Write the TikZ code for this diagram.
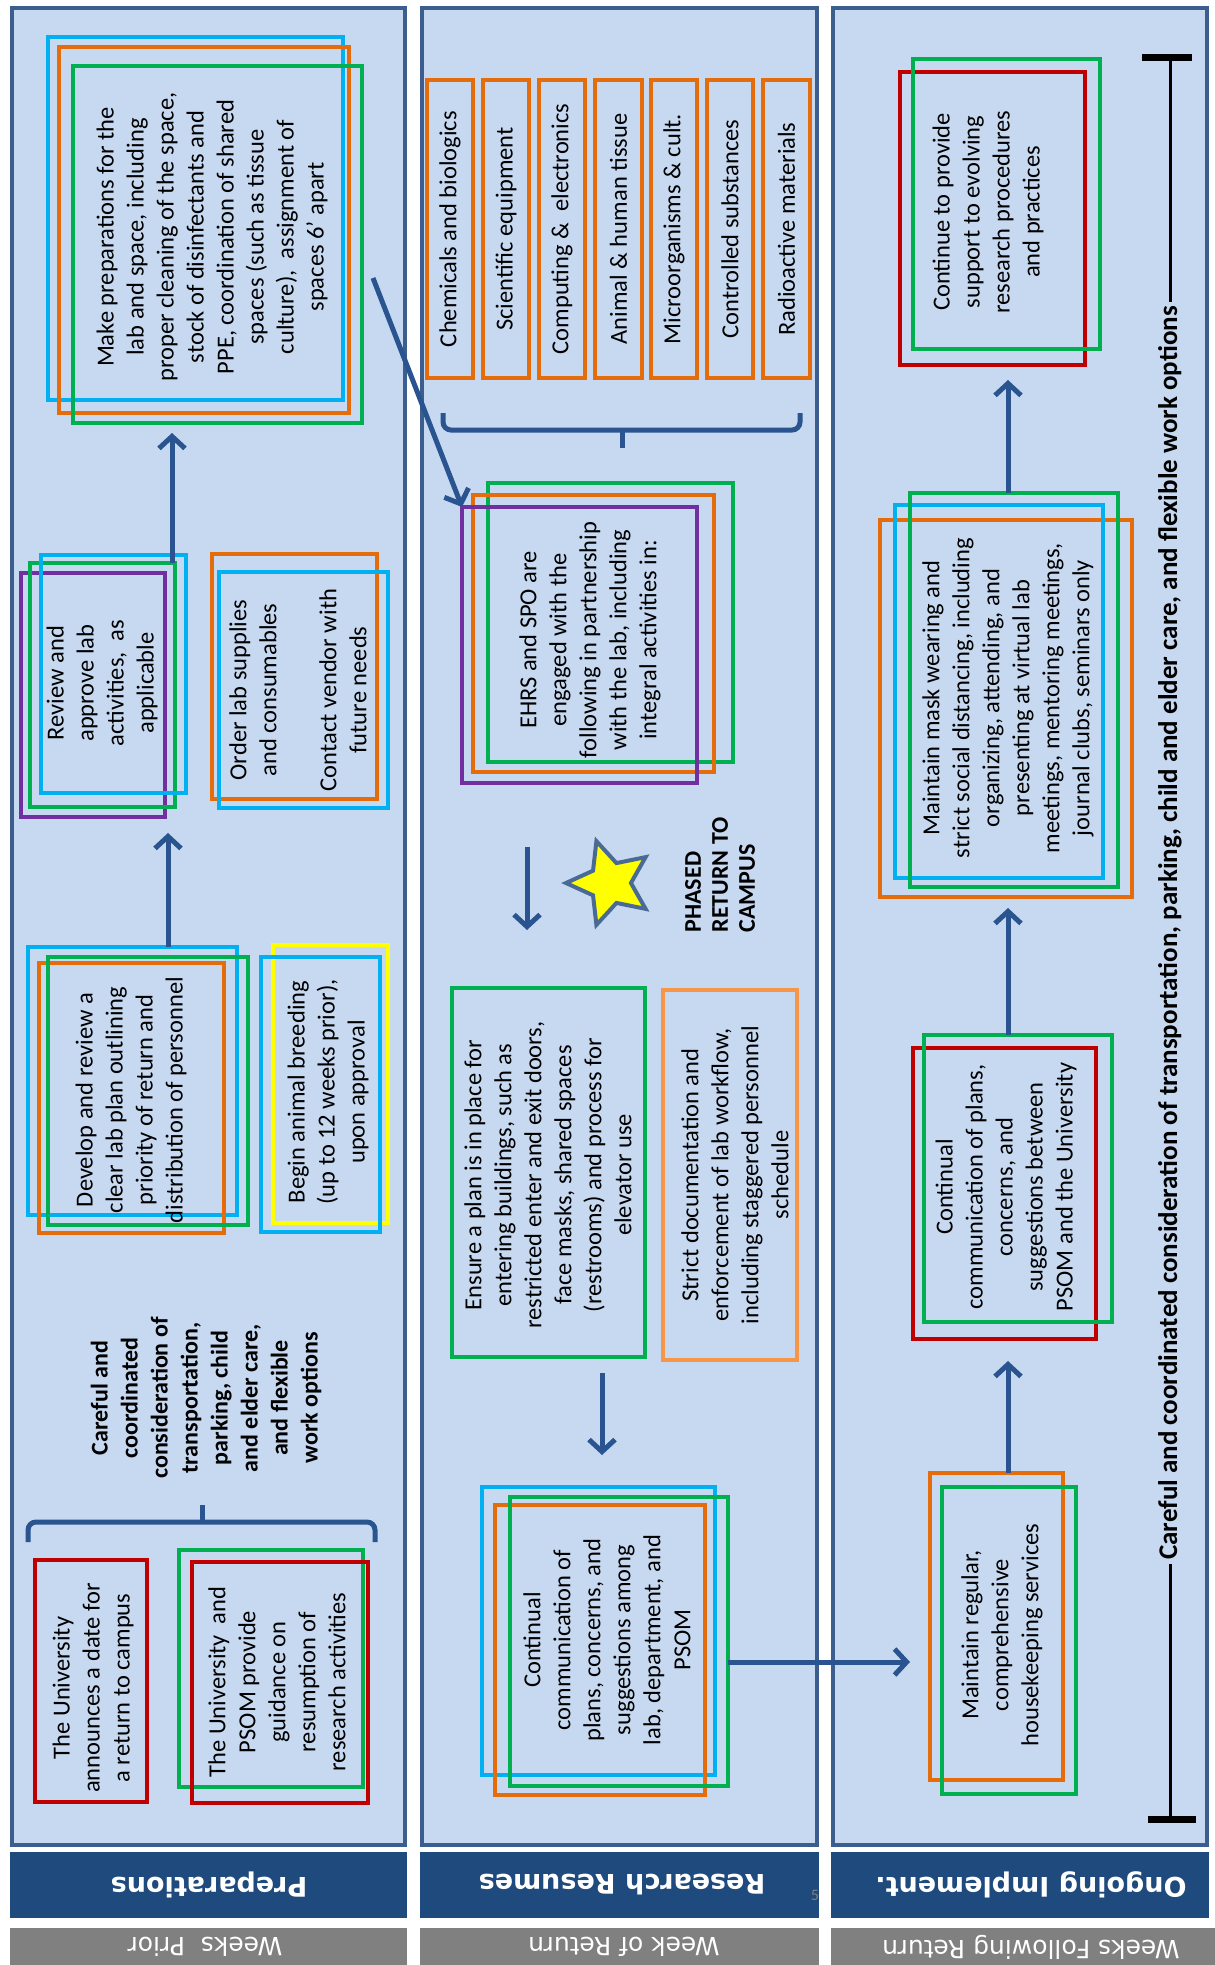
\documentclass[tikz,border=0pt]{standalone}
\usepackage{fontspec}
\setmainfont{Carlito}
\newfontfamily\hdrfont{DejaVu Sans}
\usetikzlibrary{arrows.meta,shapes.geometric}
\definecolor{panel}{HTML}{C6D9F1}
\definecolor{pborder}{HTML}{3B5E8E}
\definecolor{hdark}{HTML}{1F4A7E}
\definecolor{hgray}{HTML}{808080}
\definecolor{cblue}{HTML}{00B0F0}
\definecolor{corange}{HTML}{E46C0A}
\definecolor{cgreen}{HTML}{00B050}
\definecolor{cred}{HTML}{C00000}
\definecolor{cpurple}{HTML}{7030A0}
\definecolor{cyellow}{HTML}{FFFF00}
\definecolor{clorange}{HTML}{F79646}
\definecolor{arrc}{HTML}{2A5490}
\definecolor{starb}{HTML}{4A6A96}
\newcommand\fr[6]{\node[frame,draw=#6,minimum width={(#4)-(#2)},minimum height={(#5)-(#3)}] (#1) at ({((#2)+(#4))/2},{((#3)+(#5))/2}) {};}
\tikzset{
  frame/.style={rectangle,line width=4.5pt,inner sep=0pt,outer sep=0pt},
  txt/.style={rotate=90,align=center,inner sep=0pt,font=\fontsize{24.5}{30}\selectfont},
  btxt/.style={txt,font=\fontsize{24}{30}\selectfont\bfseries},
  arr/.style={draw=arrc,line width=5pt,-{Straight Barb[length=12pt,width=26pt]}},
  brc/.style={draw=arrc,line width=5pt,rounded corners=8pt},
  pnl/.style={fill=panel,draw=pborder,line width=4pt},
  hdr/.style={rotate=180,text=white,font=\hdrfont\bfseries\fontsize{27}{30}\selectfont},
  gry/.style={rotate=180,text=white,font=\hdrfont\fontsize{25}{28}\selectfont},
}
\begin{document}
\begin{tikzpicture}[x=1pt,y=-1pt]
\useasboundingbox (0,0) rectangle (1215,1965);
\fill[white] (0,0) rectangle (1215,1965);
% panels
\draw[pnl] (12,8) rectangle (405,1845);
\draw[pnl] (422,8) rectangle (817,1845);
\draw[pnl] (833,8) rectangle (1207,1845);
% header bands
\fill[hdark] (10,1852) rectangle (407,1918);
\fill[hdark] (420,1852) rectangle (819,1918);
\fill[hdark] (831,1852) rectangle (1209,1918);
\fill[hgray] (10,1928) rectangle (407,1965);
\fill[hgray] (420,1928) rectangle (819,1965);
\fill[hgray] (831,1928) rectangle (1215,1965);
\node[hdr] (h1) at (209,1885) {Preparations};
\node[hdr] (h2) at (622,1885) {Research Resumes};
\node[hdr] (h3) at (1031,1885) {Ongoing Implement.};
\node[gry] (g1) at (205,1947) {Weeks~ Prior};
\node[gry] (g2) at (624,1947) {Week of Return};
\node[gry] (g3) at (1031,1947) {Weeks Following Return};
\node[text=hgray,font=\fontsize{16}{16}\selectfont] (pgno) at (815,1895) {5};

% ---------- column 1 ----------
\fr{prepB}{48}{37}{343}{400}{cblue}
\fr{prepO}{59}{47}{349}{413}{corange}
\fr{prepG}{73}{66}{362}{423}{cgreen}
\node[txt] (prepT) at (212,237) {Make preparations for the\\lab and space, including\\proper cleaning of the space,\\stock of disinfectants and\\PPE, coordination of shared\\spaces (such as tissue\\culture),~ assignment of\\spaces 6' apart};

\fr{revP}{21}{573}{165}{817}{cpurple}
\fr{revG}{30}{563}{175}{807}{cgreen}
\fr{revB}{41}{555}{186}{793}{cblue}
\node[txt] (revT) at (102,683) {Review and\\approve lab\\activities,~ as\\applicable};

\fr{ordO}{212}{554}{377}{799}{corange}
\fr{ordB}{219}{572}{388}{808}{cblue}
\node[txt] (ordT) at (298,690) {Order lab supplies\\and consumables\\[30pt]Contact vendor with\\future needs};

\fr{devB}{28}{947}{237}{1215}{cblue}
\fr{devO}{39}{963}{224}{1233}{corange}
\fr{devG}{48}{957}{248}{1225}{cgreen}
\node[txt] (devT) at (131,1100) {Develop and review a\\clear lab plan outlining\\priority of return and\\distribution of personnel};

\fr{begY}{273}{945}{388}{1223}{cyellow}
\fr{begB}{261}{957}{380}{1232}{cblue}
\node[txt] (begT) at (328,1092) {Begin animal breeding\\(up to 12 weeks prior),\\upon approval};

\node[btxt] (careT) at (206,1398) {Careful and\\coordinated\\consideration of\\transportation,\\parking, child\\and elder care,\\and flexible\\work options};

\draw[brc] (28,1542) -- (28,1522) -- (375,1522) -- (375,1542);
\draw[draw=arrc,line width=5pt] (202,1524) -- (202,1505);

\fr{uniR}{35}{1560}{147}{1802}{cred}
\node[txt] (uniT) at (93,1688) {The University\\announces a date for\\a return to campus};

\fr{psomG}{179}{1550}{363}{1787}{cgreen}
\fr{psomR}{192}{1562}{368}{1803}{cred}
\node[txt] (psomT) at (277,1682) {The University~ and\\PSOM provide\\guidance on\\resumption of\\research activities};

% ---------- column 2 ----------
\fr{o1}{427}{80}{473}{378}{corange}
\fr{o2}{483}{80}{529}{378}{corange}
\fr{o3}{539}{80}{585}{378}{corange}
\fr{o4}{595}{80}{642}{378}{corange}
\fr{o5}{651}{80}{697}{378}{corange}
\fr{o6}{707}{80}{753}{378}{corange}
\fr{o7}{763}{80}{810}{378}{corange}
\node[txt] (o1t) at (o1) {Chemicals and biologics};
\node[txt] (o2t) at (o2) {Scientific equipment};
\node[txt] (o3t) at (o3) {Computing \&~ electronics};
\node[txt] (o4t) at (o4) {Animal \& human tissue};
\node[txt] (o5t) at (o5) {Microorganisms \& cult.};
\node[txt] (o6t) at (o6) {Controlled substances};
\node[txt] (o7t) at (o7) {Radioactive materials};

\draw[brc] (443,413) -- (443,430) -- (800,430) -- (800,413);
\draw[draw=arrc,line width=5pt] (622,428) -- (622,448);

\fr{ehrsG}{488}{483}{733}{762}{cgreen}
\fr{ehrsO}{473}{495}{714}{772}{corange}
\fr{ehrsP}{462}{507}{697}{783}{cpurple}
\node[txt] (ehrsT) at (590,640) {EHRS and SPO are\\engaged with the\\following in partnership\\with the lab, including\\integral activities in:};

\node[star,star points=5,star point ratio=2.1,minimum size=88pt,inner sep=0pt,
      fill=cyellow,draw=starb,line width=4pt,rotate=90] (star) at (610,883) {};
\node[btxt,align=left,font=\fontsize{24}{27}\selectfont\bfseries] (phT) at (720,875) {PHASED\\RETURN TO\\CAMPUS};

\fr{ensG}{452}{988}{645}{1357}{cgreen}
\node[txt] (ensT) at (548,1175) {Ensure a plan is in place for\\entering buildings, such as\\restricted enter and exit doors,\\face masks, shared spaces\\(restrooms) and process for\\elevator use};

\fr{strO}{663}{990}{797}{1360}{clorange}
\node[txt] (strT) at (735,1175) {Strict documentation and\\enforcement of lab workflow,\\including staggered personnel\\schedule};

\fr{conB}{482}{1487}{715}{1775}{cblue}
\fr{conO}{495}{1505}{705}{1795}{corange}
\fr{conG}{510}{1497}{728}{1786}{cgreen}
\node[txt] (conT) at (607,1640) {Continual\\communication of\\plans, concerns, and\\suggestions among\\lab, department, and\\PSOM};

% ---------- column 3 ----------
\fr{cntR}{900}{72}{1085}{365}{cred}
\fr{cntG}{913}{59}{1100}{349}{cgreen}
\node[txt] (cntT) at (988,212) {Continue to provide\\support to evolving\\research procedures\\and practices};

\fr{mskO}{880}{520}{1132}{897}{corange}
\fr{mskB}{895}{505}{1103}{878}{cblue}
\fr{mskG}{910}{493}{1118}{887}{cgreen}
\node[txt] (mskT) at (1008,698) {Maintain mask wearing and\\strict social distancing, including\\organizing, attending, and\\presenting at virtual lab\\meetings, mentoring meetings,\\journal clubs, seminars only};

\fr{c2R}{913}{1048}{1096}{1339}{cred}
\fr{c2G}{924}{1035}{1112}{1322}{cgreen}
\node[txt] (c2T) at (1006,1187) {Continual\\communication of plans,\\concerns, and\\suggestions between\\PSOM and the University};

\fr{mntO}{930}{1473}{1063}{1780}{corange}
\fr{mntG}{942}{1487}{1076}{1794}{cgreen}
\node[txt] (mntT) at (1002,1635) {Maintain regular,\\comprehensive\\housekeeping services};

% timeline
\coordinate (tlTop) at (1170,57);
\coordinate (tlBot) at (1170,1819);
\draw[line width=3pt] (tlTop) -- (tlBot);
\draw[line width=7pt] (1142,57) -- (1192,57);
\draw[line width=7pt] (1148,1819) -- (1196,1819);
\node[rotate=90,fill=panel,inner xsep=4pt,inner ysep=2pt,font=\fontsize{27}{30}\selectfont\bfseries] (tlT) at (1170,933) {Careful and coordinated consideration of transportation, parking, child and elder care, and flexible work options};

% ---------- connectors ----------
\coordinate (x1) at (168,0);
\coordinate (x2) at (172,0);
\coordinate (x4) at (527,0);
\coordinate (x5) at (602,0);
\coordinate (y6) at (0,1662);
\coordinate (x7) at (1008,0);
\coordinate (dstart) at (373,278);
\draw[arr,shorten >=16pt] (devB.north -| x1) -- (revP.south -| x1);
\draw[arr,shorten <=-8pt,shorten >=10pt] (revB.north -| x2) -- (prepG.south -| x2);
\draw[arr] (dstart) -- (ehrsP.north west);
\draw[arr,shorten <=64pt,shorten >=58pt] (ehrsP.south -| x4) -- (ensG.north -| x4);
\draw[arr,shorten <=16pt,shorten >=32pt] (ensG.south -| x5) -- (conB.north -| x5);
\draw[arr,shorten >=20pt] (conG.east |- y6) -- (mntO.west |- y6);
\draw[arr,shorten >=22pt] (mntO.north -| x7) -- (c2R.south -| x7);
\draw[arr,shorten >=11pt] (c2G.north -| x7) -- (mskO.south -| x7);
\draw[arr,shorten >=15pt] (mskG.north -| x7) -- (cntR.south -| x7);
\end{tikzpicture}
\end{document}
